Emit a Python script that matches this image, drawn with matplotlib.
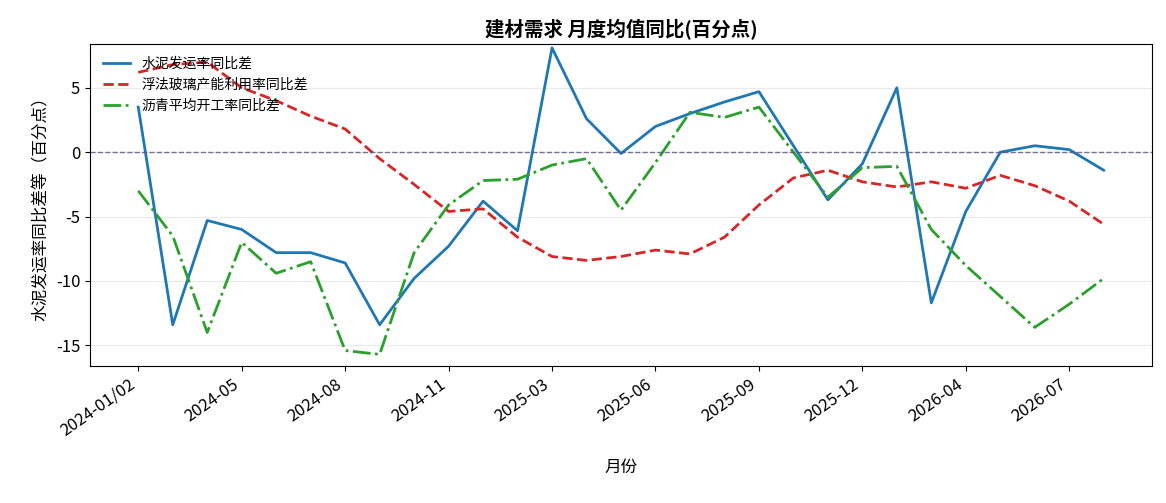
import matplotlib
matplotlib.use("Agg")
import matplotlib.pyplot as plt

plt.rcParams['font.family'] = ['Noto Sans CJK SC', 'DejaVu Sans']
plt.rcParams['axes.unicode_minus'] = False

months = (["2024-01/02"] + [f"2024-{m:02d}" for m in range(3, 13)]
          + ["2025-01/02"] + [f"2025-{m:02d}" for m in range(3, 13)]
          + ["2026-01/02"] + [f"2026-{m:02d}" for m in range(3, 9)])
cement = [3.5, -13.4, -5.3, -6.0, -7.8, -7.8, -8.6, -13.4, -9.8, -7.3, -3.8, -6.1,
          8.1, 2.6, -0.1, 2.0, 3.0, 3.9, 4.7, 0.5, -3.7, -0.9, 5.0, -11.7, -4.6,
          0.0, 0.5, 0.2, -1.4]
glass = [6.2, 6.8, 7.0, 5.0, 4.0, 2.8, 1.8, -0.5, -2.5, -4.6, -4.4, -6.6, -8.1,
         -8.4, -8.1, -7.6, -7.9, -6.6, -4.1, -2.0, -1.4, -2.3, -2.7, -2.3, -2.8,
         -1.8, -2.6, -3.8, -5.6]
asphalt = [-3.0, -6.5, -14.0, -7.0, -9.4, -8.5, -15.4, -15.7, -7.8, -4.1, -2.2,
           -2.1, -1.0, -0.5, -4.5, -0.8, 3.1, 2.7, 3.5, 0.0, -3.5, -1.2, -1.1,
           -6.0, -8.8, -11.2, -13.6, -11.8, -9.8]

fig = plt.figure(figsize=(11.66, 5.03), dpi=100)
ax = fig.add_axes([90/1166, 1-366/503, (1152-90)/1166, (366-44)/503])
x = list(range(len(months)))
ax.plot(x, cement, color='#1f77b4', lw=2, label='水泥发运率同比差')
ax.plot(x, glass, color='#d62728', lw=2, ls='--', label='浮法玻璃产能利用率同比差')
ax.plot(x, asphalt, color='#2ca02c', lw=2, ls='-.', label='沥青平均开工率同比差')
ax.axhline(0, color='#555577', lw=1, ls='--', alpha=0.8)
ax.grid(axis='y', color='#dddddd', alpha=0.6)
ax.set_xlim(-1.4, 29.4)
ax.set_ylim(-16.6, 8.4)
ax.set_yticks([-15, -10, -5, 0, 5])
ticks = list(range(0, len(months), 3))
ax.set_xticks(ticks)
ax.set_xticklabels([months[i] for i in ticks], rotation=35, ha='right', fontsize=12)
ax.tick_params(axis='y', labelsize=12)
ax.set_title('建材需求 月度均值同比(百分点)', fontsize=14, fontweight='bold')
ax.set_xlabel('月份', fontsize=12, labelpad=14)
ax.set_ylabel('水泥发运率同比差等（百分点）', fontsize=12)
ax.legend(loc='upper left', frameon=False, fontsize=10)
fig.savefig('out.png', dpi=100)
